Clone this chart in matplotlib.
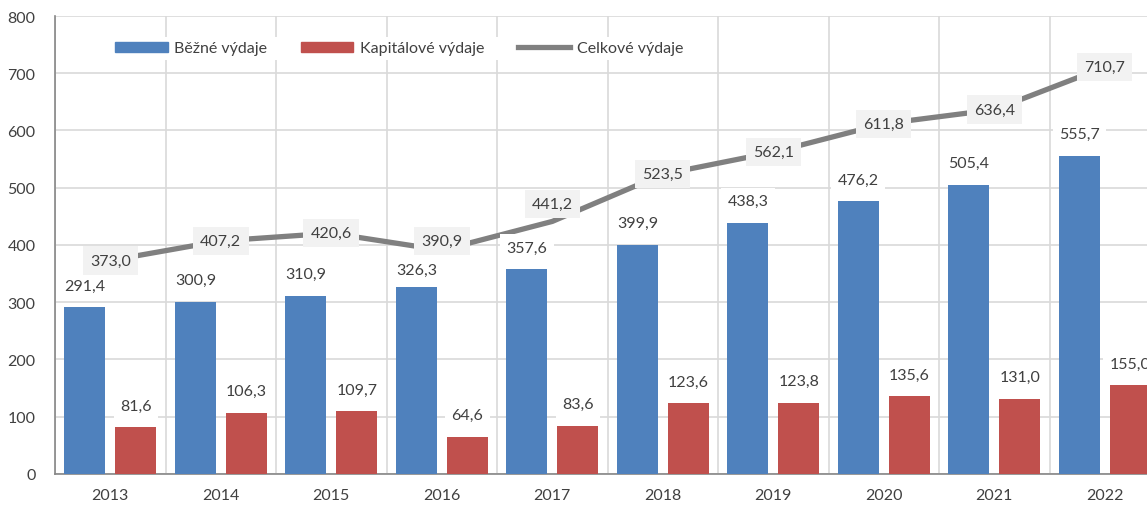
import numpy as np
import matplotlib.pyplot as plt
from matplotlib.lines import Line2D
from matplotlib.patches import Patch

years = ["2013", "2014", "2015", "2016", "2017", "2018", "2019", "2020", "2021", "2022"]
bezne = [291.4, 300.9, 310.9, 326.3, 357.6, 399.9, 438.3, 476.2, 505.4, 555.7]
kapitalove = [81.6, 106.3, 109.7, 64.6, 83.6, 123.6, 123.8, 135.6, 131.0, 155.0]
celkove = [373.0, 407.2, 420.6, 390.9, 441.2, 523.5, 562.1, 611.8, 636.4, 710.7]

blue = "#4f81bd"
red = "#c0504d"
gray = "#808080"
text_col = "#404040"

plt.rcParams["font.family"] = ["Lato", "DejaVu Sans"]

def fmt(v):
    return f"{v:.1f}".replace(".", ",")

fig = plt.figure(figsize=(11.47, 5.06), dpi=100)
ax = fig.add_axes([0.048, 0.0613, 0.9634, 0.9051])

x = np.arange(len(years))
w = 0.37
off = 0.23
ax.bar(x - off, bezne, w, color=blue, zorder=3)
ax.bar(x + off, kapitalove, w, color=red, zorder=3)
ax.plot(x, celkove, color=gray, lw=3.8, zorder=4, solid_capstyle="butt")

# a couple of line labels were nudged upwards in the original
line_lbl_shift = {3: 16, 4: 30}

for i, (xi, v) in enumerate(zip(x, bezne)):
    dy = 30 if i == 3 else 38
    ax.text(xi - off, v + dy, fmt(v), ha="center", va="center", fontsize=11.5,
            color=text_col, zorder=5,
            bbox=dict(boxstyle="square,pad=0.4", fc="white", ec="none"))
for xi, v in zip(x, kapitalove):
    ax.text(xi + off, v + 38, fmt(v), ha="center", va="center", fontsize=11.5,
            color=text_col, zorder=5,
            bbox=dict(boxstyle="square,pad=0.4", fc="white", ec="none"))
for i, (xi, v) in enumerate(zip(x, celkove)):
    ax.text(xi, v + line_lbl_shift.get(i, 0), fmt(v), ha="center", va="center",
            fontsize=11.5, color=text_col, zorder=6,
            bbox=dict(boxstyle="square,pad=0.45", fc="#f2f2f2", ec="none"))

ax.set_xlim(-0.5, len(years) - 0.5)
ax.set_ylim(0, 800)
ax.set_yticks(np.arange(0, 801, 100))
ax.set_xticks(x)
ax.set_xticklabels(years)
ax.set_xticks(np.arange(-0.5, len(years)), minor=True)
ax.grid(axis="y", color="#d9d9d9", lw=1.2, zorder=0)
ax.grid(axis="x", which="minor", color="#d9d9d9", lw=1.2, zorder=0)
ax.tick_params(axis="both", which="both", length=0, labelsize=11.5, labelcolor=text_col)
ax.tick_params(axis="y", pad=14)
ax.tick_params(axis="x", pad=10)
for s in ["top", "right"]:
    ax.spines[s].set_visible(False)
for s in ["left", "bottom"]:
    ax.spines[s].set_color("#868686")
    ax.spines[s].set_linewidth(1.2)

handles = [Patch(color=blue, label="Běžné výdaje"),
           Patch(color=red, label="Kapitálové výdaje"),
           Line2D([0], [0], color=gray, lw=3.8, label="Celkové výdaje")]
leg = ax.legend(handles=handles, ncol=3, loc="upper left", bbox_to_anchor=(0.05, 0.955),
                frameon=True, fontsize=11.5, handlelength=3.3, handleheight=0.6,
                columnspacing=2.1, handletextpad=0.4, borderpad=0.3, borderaxespad=0)
leg.get_frame().set_facecolor("white")
leg.get_frame().set_edgecolor("none")
leg.get_frame().set_alpha(1)
leg.set_zorder(7)
for t in leg.get_texts():
    t.set_color(text_col)

fig.savefig("out.png", dpi=100)
